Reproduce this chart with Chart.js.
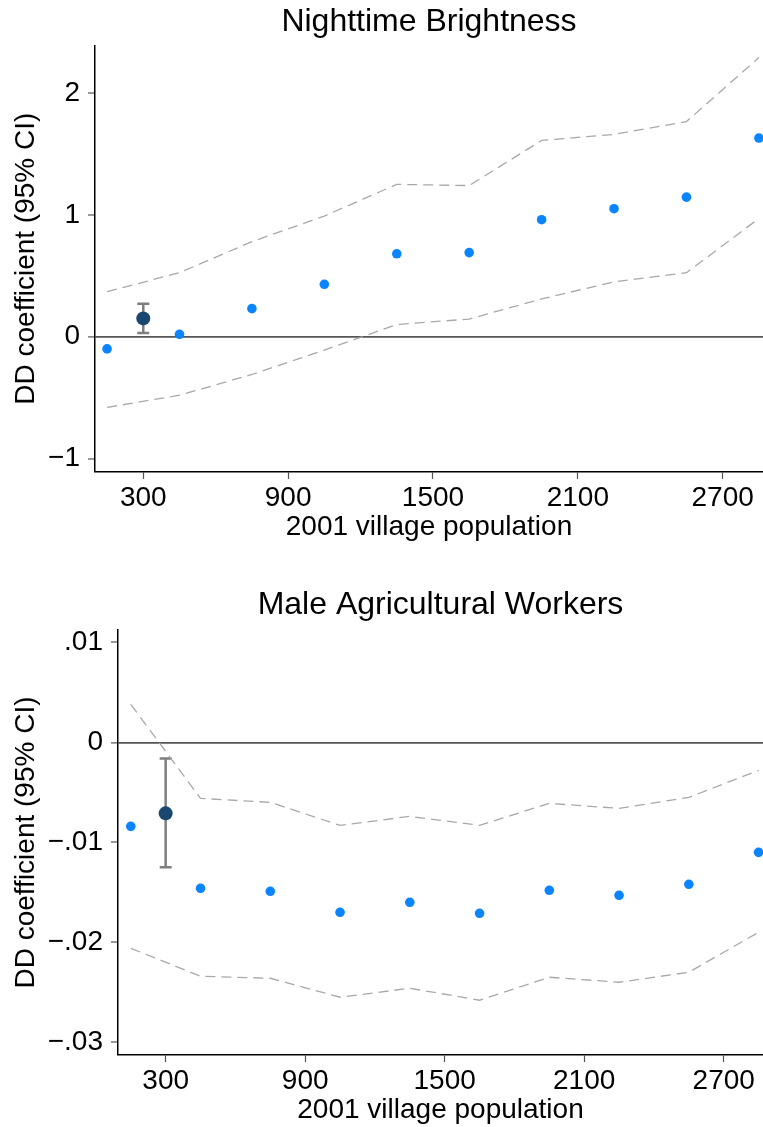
<!DOCTYPE html>
<html>
<head>
<meta charset="utf-8">
<title>DD coefficients by village population</title>
<script src="https://cdn.jsdelivr.net/npm/chart.js@4.4.1/dist/chart.umd.min.js"></script>
<style>
  html, body { margin: 0; padding: 0; background: #fff; }
  #wrap { position: relative; width: 763px; height: 1127px; }
  #brightness { position: absolute; left: 0; top: 0; }
  #agworkers { position: absolute; left: 0; top: 560px; }
</style>
</head>
<body>
<div id="wrap">
  <canvas id="brightness" width="763" height="560"></canvas>
  <canvas id="agworkers" width="763" height="567"></canvas>
</div>
<script>
// population bins (x) shared by both panels
const popBins = [150, 450, 750, 1050, 1350, 1650, 1950, 2250, 2550, 2850];
const xTicks = [300, 900, 1500, 2100, 2700];
const xLabels = ['300', '900', '1500', '2100', '2700'];

// Nighttime brightness
const coefBright  = [-0.10, 0.02, 0.23, 0.43, 0.68, 0.69, 0.96, 1.05, 1.145, 1.63];
const upperBright = [0.37, 0.525, 0.78, 0.99, 1.25, 1.24, 1.61, 1.66, 1.765, 2.29];
const lowerBright = [-0.58, -0.48, -0.31, -0.11, 0.10, 0.145, 0.31, 0.45, 0.525, 0.97];
const pooledBright = { x: 300, coef: 0.15, lo: 0.03, hi: 0.27 };
const yTicksBright = [2, 1, 0, -1];
const yLabelsBright = ['2', '1', '0', '\u22121'];

// Male agricultural workers
const coefAg  = [-0.0084, -0.0146, -0.0149, -0.0170, -0.0160, -0.0171, -0.0148, -0.0153, -0.0142, -0.0110];
const upperAg = [0.0038, -0.0056, -0.0060, -0.0083, -0.0074, -0.0083, -0.0061, -0.0066, -0.0055, -0.0028];
const lowerAg = [-0.0206, -0.0234, -0.0236, -0.0255, -0.0246, -0.0258, -0.0235, -0.0240, -0.0230, -0.0190];
const pooledAg = { x: 300, coef: -0.0071, lo: -0.0125, hi: -0.0016 };
const yTicksAg = [0.01, 0, -0.01, -0.02, -0.03];
const yLabelsAg = ['.01', '0', '\u2212.01', '\u2212.02', '\u2212.03'];

Chart.defaults.font.family = "'Liberation Sans', Arial, Helvetica, sans-serif";
Chart.defaults.color = '#000';

const toPoints = (xs, ys) => xs.map((x, i) => ({ x: x, y: ys[i] }));

// capped vertical bar for the pooled estimate, drawn under the markers
const errorBars = {
  id: 'errorBars',
  beforeDatasetsDraw(chart, args, opts) {
    const { ctx, scales: { x, y } } = chart;
    const px = x.getPixelForValue(opts.x);
    const top = y.getPixelForValue(opts.hi);
    const bot = y.getPixelForValue(opts.lo);
    ctx.save();
    ctx.strokeStyle = '#7f7f7f';
    ctx.lineWidth = 2.5;
    ctx.beginPath();
    ctx.moveTo(px, top); ctx.lineTo(px, bot);
    ctx.moveTo(px - 6, top); ctx.lineTo(px + 6, top);
    ctx.moveTo(px - 6, bot); ctx.lineTo(px + 6, bot);
    ctx.stroke();
    ctx.restore();
  }
};

function makePanel(canvasId, cfg) {
  const dashed = {
    type: 'line',
    borderColor: '#a8a8a8',
    borderWidth: 1.3,
    borderDash: [10, 6],
    pointRadius: 0,
    fill: false,
    tension: 0
  };
  return new Chart(document.getElementById(canvasId), {
    type: 'scatter',
    data: {
      datasets: [
        { data: [{ x: cfg.pooled.x, y: cfg.pooled.coef }], backgroundColor: '#1a476f',
          borderWidth: 0, pointRadius: 7 },
        { data: toPoints(popBins, cfg.coef), backgroundColor: '#0b84ff',
          borderWidth: 0, pointRadius: 4.8 },
        Object.assign({ data: toPoints(popBins, cfg.upper) }, dashed),
        Object.assign({ data: toPoints(popBins, cfg.lower) }, dashed)
      ]
    },
    options: {
      responsive: false,
      animation: false,
      events: [],
      layout: { padding: 0, autoPadding: false },
      plugins: {
        legend: { display: false },
        tooltip: { enabled: false },
        title: {
          display: true,
          fullSize: false,
          text: cfg.title,
          color: '#000',
          font: { size: 32, weight: 'normal' },
          padding: cfg.titlePadding
        },
        errorBars: { x: cfg.pooled.x, lo: cfg.pooled.lo, hi: cfg.pooled.hi }
      },
      scales: {
        x: {
          type: 'linear',
          min: cfg.xMin,
          max: cfg.xMax,
          afterFit: s => {
            s.height = cfg.xAxisHeight;
            s.paddingLeft = 0;
            s.paddingRight = 0;
          },
          afterBuildTicks: s => { s.ticks = xTicks.map(v => ({ value: v })); },
          ticks: {
            font: { size: 28 },
            padding: 2,
            maxRotation: 0,
            autoSkip: false,
            callback: (v, i) => xLabels[i]
          },
          grid: { drawOnChartArea: false, drawTicks: true, tickLength: 7, tickColor: '#555', tickWidth: 1.2 },
          border: { display: true, color: '#000', width: 1.5 },
          title: {
            display: true,
            text: '2001 village population',
            font: { size: 28 },
            padding: { top: 0, bottom: cfg.xTitlePad }
          }
        },
        y: {
          type: 'linear',
          min: cfg.yMin,
          max: cfg.yMax,
          afterFit: s => {
            s.width = cfg.yAxisWidth;
            s.paddingTop = 0;
            s.paddingBottom = 0;
          },
          afterBuildTicks: s => { s.ticks = cfg.yTicks.map(v => ({ value: v })); },
          ticks: {
            font: { size: 28 },
            padding: 8,
            callback: (v, i) => cfg.yLabels[i]
          },
          grid: {
            drawOnChartArea: true,
            drawTicks: true,
            tickLength: 7,
            tickColor: '#555',
            tickWidth: 1.2,
            color: c => (c.tick && c.tick.value === 0 ? '#555' : 'rgba(0,0,0,0)'),
            lineWidth: c => (c.tick && c.tick.value === 0 ? 1.8 : 0)
          },
          border: { display: true, color: '#000', width: 1.5 },
          title: {
            display: true,
            text: 'DD coefficient (95% CI)',
            font: { size: 28 },
            padding: { top: 9, bottom: 0 }
          }
        }
      }
    },
    plugins: [errorBars]
  });
}

makePanel('brightness', {
  title: 'Nighttime Brightness',
  titlePadding: { top: 3, bottom: 4 },
  coef: coefBright, upper: upperBright, lower: lowerBright, pooled: pooledBright,
  yTicks: yTicksBright, yLabels: yLabelsBright,
  xMin: 100, xMax: 2867, yMin: -1.11, yMax: 2.39,
  yAxisWidth: 95, xAxisHeight: 88, xTitlePad: 16
});

makePanel('agworkers', {
  title: 'Male Agricultural Workers',
  titlePadding: { top: 26, bottom: 5.6 },
  coef: coefAg, upper: upperAg, lower: lowerAg, pooled: pooledAg,
  yTicks: yTicksAg, yLabels: yLabelsAg,
  xMin: 95, xMax: 2869, yMin: -0.03128, yMax: 0.01125,
  yAxisWidth: 118, xAxisHeight: 72, xTitlePad: 0
});
</script>
</body>
</html>
